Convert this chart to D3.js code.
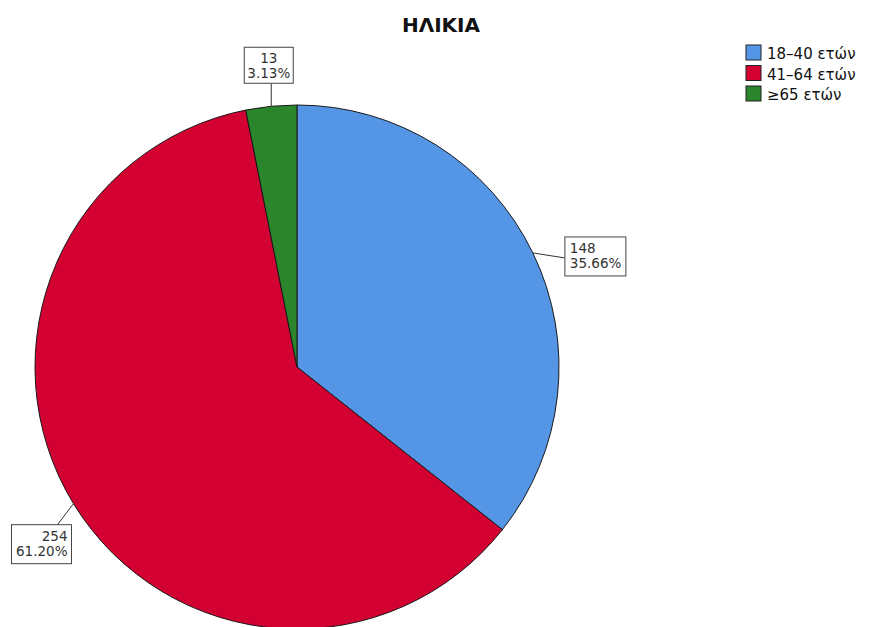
<!DOCTYPE html>
<html>
<head>
<meta charset="utf-8">
<script src="https://cdn.jsdelivr.net/npm/d3@7/dist/d3.min.js"></script>
<style>
  body { margin: 0; background: #fff; }
  svg { display: block; font-family: "DejaVu Sans", sans-serif; }
</style>
</head>
<body>
<svg id="chart" width="879" height="627"></svg>
<script>
'use strict';

// data
var categories = ['18–40 ετών', '41–64 ετών', '≥65 ετών'];
var counts = [148, 254, 13];
var colors = ['#5595e5', '#d30032', '#2a852b'];
var chartTitle = 'ΗΛΙΚΙΑ';

// label placement: leader end relative to slice edge, box relative to leader end
var labelLayout = [
  { lx: 32, ly: 5, bx: 0, by: -21, w: 61, h: 39, anchor: 'start' },
  { lx: -16, ly: 21, bx: -46, by: 0, w: 60, h: 39, anchor: 'end' },
  { lx: 0, ly: -23, bx: -27, by: -36, w: 49, h: 36, anchor: 'middle' }
];

var svg = d3.select('#chart');
var cx = 297, cy = 367, radius = 262;
var total = d3.sum(counts);

svg.append('text')
  .attr('x', 441).attr('y', 32)
  .attr('text-anchor', 'middle')
  .attr('font-size', '20px').attr('font-weight', 'bold')
  .attr('fill', '#111')
  .text(chartTitle);

var pie = d3.pie().sort(null).value(function (d) { return d; });
var arcs = pie(counts);
var arc = d3.arc().innerRadius(0).outerRadius(radius);
var edge = d3.arc().innerRadius(radius).outerRadius(radius);

var g = svg.append('g').attr('transform', 'translate(' + cx + ',' + cy + ')');

g.selectAll('path.slice').data(arcs).enter().append('path')
  .attr('class', 'slice')
  .attr('d', arc)
  .attr('fill', function (d, i) { return colors[i]; })
  .attr('stroke', '#1a1a1a')
  .attr('stroke-width', 1);

// labels
arcs.forEach(function (d, i) {
  var p = edge.centroid(d);
  var L = labelLayout[i];
  var ex = p[0] + L.lx, ey = p[1] + L.ly;
  g.append('line')
    .attr('x1', p[0]).attr('y1', p[1])
    .attr('x2', ex).attr('y2', ey)
    .attr('stroke', '#333').attr('stroke-width', 1);
  var bx = ex + L.bx, by = ey + L.by;
  g.append('rect')
    .attr('x', bx).attr('y', by)
    .attr('width', L.w).attr('height', L.h)
    .attr('fill', '#fff').attr('stroke', '#444').attr('stroke-width', 1);
  var tx = L.anchor === 'start' ? bx + 5 : (L.anchor === 'end' ? bx + L.w - 4 : bx + L.w / 2);
  var t = g.append('text')
    .attr('text-anchor', L.anchor)
    .attr('font-size', '13.5px')
    .attr('fill', '#333');
  t.append('tspan').attr('x', tx).attr('y', by + 16).text(counts[i]);
  t.append('tspan').attr('x', tx).attr('y', by + 31)
    .text((counts[i] / total * 100).toFixed(2) + '%');
});

// legend
var legend = svg.append('g').attr('transform', 'translate(746,45)');
var rows = legend.selectAll('g').data(categories).enter().append('g')
  .attr('transform', function (d, i) { return 'translate(0,' + (i * 20.5) + ')'; });
rows.append('rect')
  .attr('width', 15).attr('height', 15)
  .attr('fill', function (d, i) { return colors[i]; })
  .attr('stroke', '#222').attr('stroke-width', 1);
rows.append('text')
  .attr('x', 21).attr('y', 14)
  .attr('font-size', '15px')
  .attr('fill', '#111')
  .text(function (d) { return d; });
</script>
</body>
</html>
